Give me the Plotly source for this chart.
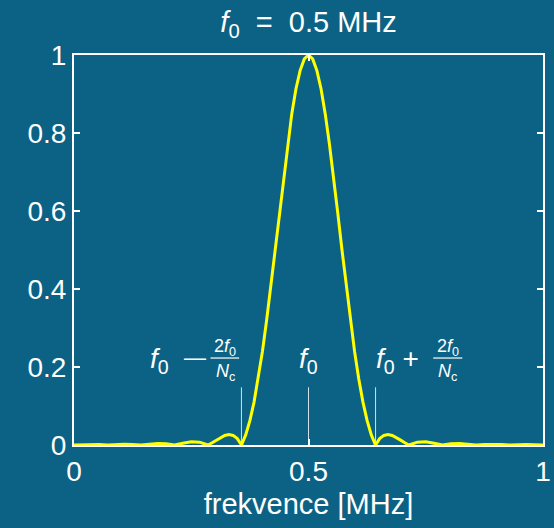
import plotly.graph_objects as go

# Spectrum magnitude of a windowed tone burst, f0 = 0.5 MHz (values per frequency point)
freq_mhz = [
    0.0, 0.0179, 0.0357, 0.0536, 0.0714, 0.0893, 0.1071, 0.125, 0.1429, 0.1607,
    0.1786, 0.1964, 0.2143, 0.2321, 0.25, 0.2679, 0.2857, 0.2946, 0.3036, 0.3125,
    0.3214, 0.3304, 0.3393, 0.3482, 0.3571, 0.3661, 0.375, 0.3839, 0.3929, 0.4018,
    0.4107, 0.4196, 0.4286, 0.4375, 0.4464, 0.4554, 0.4643, 0.4732, 0.4821, 0.4911,
    0.5,
    0.5089, 0.5179, 0.5268, 0.5357, 0.5446, 0.5536, 0.5625, 0.5714, 0.5804, 0.5893,
    0.5982, 0.6071, 0.6161, 0.625, 0.6339, 0.6429, 0.6518, 0.6607, 0.6696, 0.6786,
    0.6875, 0.6964, 0.7054, 0.7143, 0.7321, 0.75, 0.7679, 0.7857, 0.8036, 0.8214,
    0.8393, 0.8571, 0.875, 0.8929, 0.9107, 0.9286, 0.9464, 0.9643, 0.9821, 1.0,
]
magnitude = [
    0.0, 0.0008, 0.0012, 0.001, 0.0, 0.0012, 0.002, 0.0016, 0.0, 0.0022,
    0.0037, 0.0031, 0.0, 0.0046, 0.0081, 0.0072, 0.0, 0.0058, 0.0125, 0.019,
    0.0243, 0.0267, 0.0246, 0.0163, 0.0, 0.0258, 0.0624, 0.110, 0.170, 0.240,
    0.320, 0.408, 0.500, 0.594, 0.686, 0.772, 0.849, 0.913, 0.960, 0.990,
    1.0,
    0.990, 0.960, 0.913, 0.849, 0.772, 0.686, 0.594, 0.500, 0.408, 0.320,
    0.240, 0.170, 0.110, 0.0624, 0.0258, 0.0, 0.0163, 0.0246, 0.0267, 0.0243,
    0.019, 0.0125, 0.0058, 0.0, 0.0072, 0.0081, 0.0046, 0.0, 0.0031, 0.0037,
    0.0022, 0.0, 0.0016, 0.002, 0.0012, 0.0, 0.001, 0.0012, 0.0008, 0.0,
]

# Marker positions: f0 - 2f0/Nc, f0, f0 + 2f0/Nc  (Nc = 7)
marker_freqs = [0.357, 0.5, 0.643]
marker_height = 0.148

x_ticks = [0, 0.5, 1]
x_tick_text = ["0", "0.5", "1"]
y_ticks = [0, 0.2, 0.4, 0.6, 0.8, 1]
y_tick_text = ["0", "0.2", "0.4", "0.6", "0.8", "1"]

BG = "#0c6285"
FONT = "Liberation Sans, Arial, Helvetica, sans-serif"

fig = go.Figure()

for mf in marker_freqs:
    fig.add_trace(go.Scatter(
        x=[mf, mf], y=[0, marker_height], mode="lines",
        line=dict(color="rgba(235,240,245,0.9)", width=1),
        hoverinfo="skip", showlegend=False,
    ))

fig.add_trace(go.Scatter(
    x=freq_mhz, y=magnitude, mode="lines",
    line=dict(color="#ffff00", width=3),
    cliponaxis=False, showlegend=False,
))

annotations = []
def text(x, y, s, size):
    annotations.append(dict(
        x=x, y=y, xref="x", yref="y", text=s, showarrow=False,
        xanchor="center", yanchor="middle",
        font=dict(family=FONT, size=size, color="white"),
    ))

# left label: f0 - 2f0/Nc
text(0.182, 0.216, "<i>f</i><sub>0</sub>", 28)
text(0.257, 0.224, "—", 22)
text(0.322, 0.249, "2<i>f</i><sub>0</sub>", 18)
text(0.322, 0.185, "<i>N</i><sub>c</sub>", 18)
# middle label: f0
text(0.501, 0.216, "<i>f</i><sub>0</sub>", 28)
# right label: f0 + 2f0/Nc
text(0.690, 0.216, "<i>f</i><sub>0</sub> +", 28)
text(0.797, 0.249, "2<i>f</i><sub>0</sub>", 18)
text(0.797, 0.185, "<i>N</i><sub>c</sub>", 18)

shapes = [
    dict(type="line", xref="x", yref="y", x0=0.291, x1=0.352, y0=0.223, y1=0.223,
         line=dict(color="white", width=1.2)),
    dict(type="line", xref="x", yref="y", x0=0.766, x1=0.828, y0=0.223, y1=0.223,
         line=dict(color="white", width=1.2)),
]

axis_common = dict(
    showline=True, linecolor="white", linewidth=2, mirror="allticks",
    ticks="inside", ticklen=6, tickwidth=1.5, tickcolor="white",
    showgrid=False, zeroline=False, automargin=False,
    tickfont=dict(family=FONT, size=28, color="white"),
)

fig.update_layout(
    width=554, height=528,
    paper_bgcolor=BG, plot_bgcolor=BG,
    margin=dict(l=74, r=11, t=55, b=83),
    title=dict(
        text="<i>f</i><sub>0</sub>&nbsp; = &nbsp;0.5&nbsp;MHz", x=0.557, xanchor="center",
        y=0.958, yanchor="middle", yref="container",
        font=dict(family=FONT, size=29, color="white"),
    ),
    xaxis=dict(
        range=[0, 1], tickvals=x_ticks, ticktext=x_tick_text,
        title=dict(text="frekvence [MHz]", standoff=8,
                   font=dict(family=FONT, size=29, color="white")),
        **axis_common,
    ),
    yaxis=dict(
        range=[0, 1], tickvals=y_ticks, ticktext=y_tick_text,
        **axis_common,
    ),
    annotations=annotations,
    shapes=shapes,
    showlegend=False,
)

fig.write_html("out.html")
